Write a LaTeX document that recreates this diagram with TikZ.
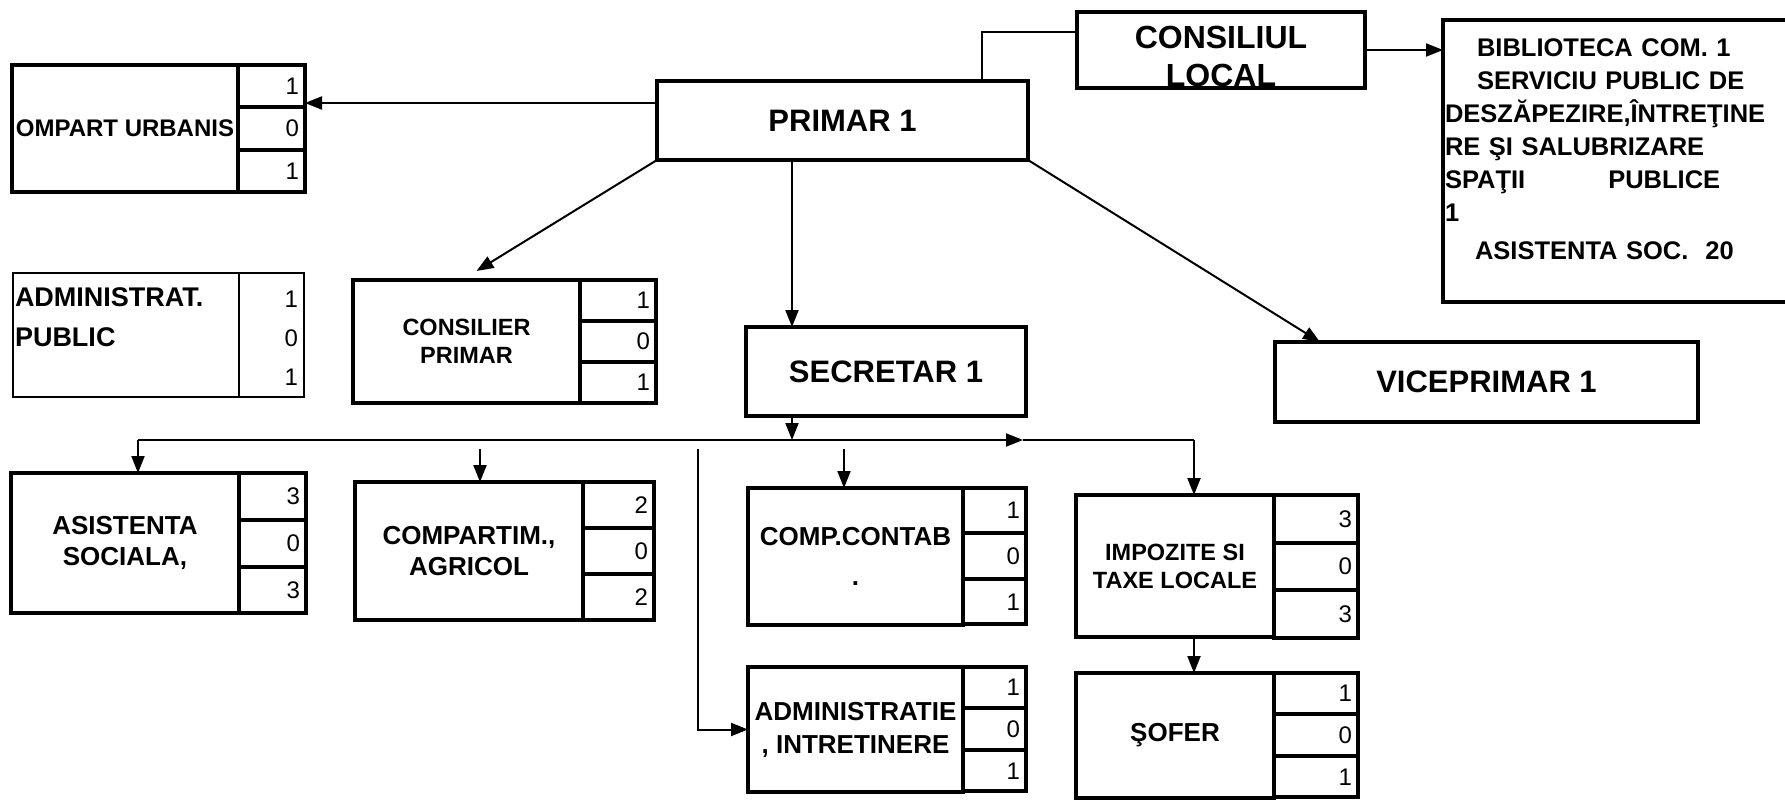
\documentclass[tikz,border=0pt]{standalone}
\usepackage{fontspec}
\setmainfont{Liberation Sans}
\usetikzlibrary{shapes.multipart, arrows.meta}
\tikzstyle{headbox} = [
    rectangle,
    draw=black,
    line width=4pt,
    outer sep=0pt,
    align=center,
    font=\fontsize{31}{38}\selectfont\bfseries
]
\tikzstyle{namebox} = [
    rectangle,
    draw=black,
    line width=4pt,
    outer sep=0pt,
    inner sep=0pt,
    anchor=north west,
    align=center,
    font=\fontsize{26}{31}\selectfont\bfseries
]
\tikzstyle{countbox} = [
    rectangle split,
    rectangle split parts=3,
    rectangle split part align=right,
    draw=black,
    line width=4pt,
    outer sep=0pt,
    inner xsep=6pt,
    anchor=north west,
    font=\fontsize{24}{24}\selectfont
]
\tikzstyle{link} = [line width=2pt]
\tikzstyle{arrow} = [line width=2pt,-{Triangle[length=17pt,width=13pt]}]

\begin{document}
\begin{tikzpicture}[x=1pt, y=-1pt]

\useasboundingbox (0,0) rectangle (1785,807);

\node (primar) [headbox, minimum width=371pt, minimum height=79pt] at (842.5,120.5) {PRIMAR 1};

\node (consiliul) [headbox, minimum width=288pt, minimum height=76pt, inner ysep=0pt,
    text height=74pt, font=\fontsize{32}{38}\selectfont\bfseries] at (1221,50)
{CONSILIUL\\LOCAL};

\node (biblio) [rectangle, draw=black, line width=4pt, outer sep=0pt, anchor=north west,
    text width=360pt, align=left, inner xsep=2pt, inner ysep=0pt,
    text height=36pt, text depth=246pt, font=\fontsize{25.5}{33}\selectfont\bfseries] at (1443,20)
{\hspace*{32pt}BIBLIOTECA COM. 1\\
\hspace*{32pt}SERVICIU PUBLIC DE\\
DESZĂPEZIRE,ÎNTREŢINE\\
RE ŞI SALUBRIZARE\\
SPAŢII\hspace*{83pt}PUBLICE\\
1\\[5pt]
\hspace*{30pt}ASISTENTA SOC.\ \ 20};

\node (secretar) [headbox, minimum width=280pt, minimum height=89pt] at (886,371.5) {SECRETAR 1};

\node (vice) [headbox, minimum width=423pt, minimum height=80pt] at (1486.5,382) {VICEPRIMAR 1};

\node (urblbl) [namebox, minimum width=226pt, minimum height=127pt,
    font=\fontsize{24}{28}\selectfont\bfseries] at (12,65) {OMPART URBANIS};
\node (urbnr) [countbox, minimum width=67pt, inner ysep=10.8pt] at (urblbl.north east)
{1\nodepart{two}0\nodepart{three}1};

\node (admlbl) [namebox, line width=2pt, minimum width=226pt, minimum height=124pt,
    text width=222pt, align=left, inner xsep=2pt, text depth=76pt,
    font=\fontsize{27}{40}\selectfont\bfseries] at (13,273) {ADMINISTRAT.\\PUBLIC};
\node (admnr) [rectangle, draw=black, line width=2pt, outer sep=0pt, anchor=north west,
    minimum width=65pt, minimum height=124pt, text width=53pt, inner xsep=6pt,
    align=right, text height=23pt, font=\fontsize{24}{39}\selectfont] at (admlbl.north east)
{1\\0\\1};

\node (conslbl) [namebox, minimum width=227pt, minimum height=123pt,
    font=\fontsize{23.5}{28}\selectfont\bfseries] at (353,280) {CONSILIER\\PRIMAR};
\node (consnr) [countbox, minimum width=76pt, inner ysep=10.1pt] at (conslbl.north east)
{1\nodepart{two}0\nodepart{three}1};

\node (asislbl) [namebox, minimum width=228pt, minimum height=140pt] at (11,473) {ASISTENTA\\SOCIALA,};
\node (asisnr) [countbox, minimum width=67pt, inner ysep=12.9pt] at (asislbl.north east)
{3\nodepart{two}0\nodepart{three}3};

\node (agrlbl) [namebox, minimum width=228pt, minimum height=138pt] at (355,482) {COMPARTIM.,\\AGRICOL};
\node (agrnr) [countbox, minimum width=71pt, inner ysep=12.6pt] at (agrlbl.north east)
{2\nodepart{two}0\nodepart{three}2};

\node (ctblbl) [namebox, minimum width=215pt, minimum height=137pt,
    font=\fontsize{26}{40}\selectfont\bfseries] at (748,488) {COMP.CONTAB\\.};
\node (ctbnr) [countbox, minimum width=63pt, inner ysep=12.4pt] at (ctblbl.north east)
{1\nodepart{two}0\nodepart{three}1};

\node (intlbl) [namebox, minimum width=215pt, minimum height=125pt,
    font=\fontsize{26}{33}\selectfont\bfseries] at (748,667) {ADMINISTRATIE\\, INTRETINERE};
\node (intnr) [countbox, minimum width=63pt, inner ysep=10.4pt] at (intlbl.north east)
{1\nodepart{two}0\nodepart{three}1};

\node (implbl) [namebox, minimum width=198pt, minimum height=142pt,
    font=\fontsize{23.5}{28}\selectfont\bfseries] at (1076,495) {IMPOZITE SI\\TAXE LOCALE};
\node (impnr) [countbox, minimum width=84pt, inner ysep=13.3pt] at (implbl.north east)
{3\nodepart{two}0\nodepart{three}3};

\node (soflbl) [namebox, minimum width=198pt, minimum height=125pt] at (1076,673) {ŞOFER};
\node (sofnr) [countbox, minimum width=84pt, inner ysep=10.4pt] at (soflbl.north east)
{1\nodepart{two}0\nodepart{three}1};

\coordinate (urbrow) at (0,103);
\coordinate (cljoin) at (982,32);
\coordinate (secx) at (792,0);
\coordinate (busL) at (138,440);
\coordinate (busA) at (1023,440);
\coordinate (busR) at (1194,440);
\coordinate (tapagr) at (480,449);
\coordinate (tapint) at (698,449);
\coordinate (tapctb) at (844,449);

\draw [arrow] (primar.west |- urbrow) -- (urbnr.east |- urbrow);
\draw [link] (primar.north -| cljoin) -- (cljoin) -- (consiliul.west |- cljoin);
\draw [arrow] (consiliul.east) -- (consiliul.east -| biblio.west);
\draw [arrow] (primar.south west) -- ([xshift=10pt,yshift=9pt]conslbl.north);
\draw [arrow] (primar.south -| secx) -- (secretar.north -| secx);
\draw [arrow] (primar.south east) -- ([xshift=45pt]vice.north west);
\draw [arrow] (secretar.south -| secx) -- (secx |- busL);
\draw [arrow] (busL) -- (busA);
\draw [link] (busA) -- (busR);
\draw [arrow] (busL) -- (busL |- asislbl.north);
\draw [arrow] (tapagr) -- (tapagr |- agrlbl.north);
\draw [arrow] (tapctb) -- (tapctb |- ctblbl.north);
\draw [arrow] (tapint) |- (intlbl.west);
\draw [arrow] (busR) -- (busR |- implbl.north);
\draw [arrow] (implbl.south -| busR) -- (soflbl.north -| busR);

\end{tikzpicture}
\end{document}
